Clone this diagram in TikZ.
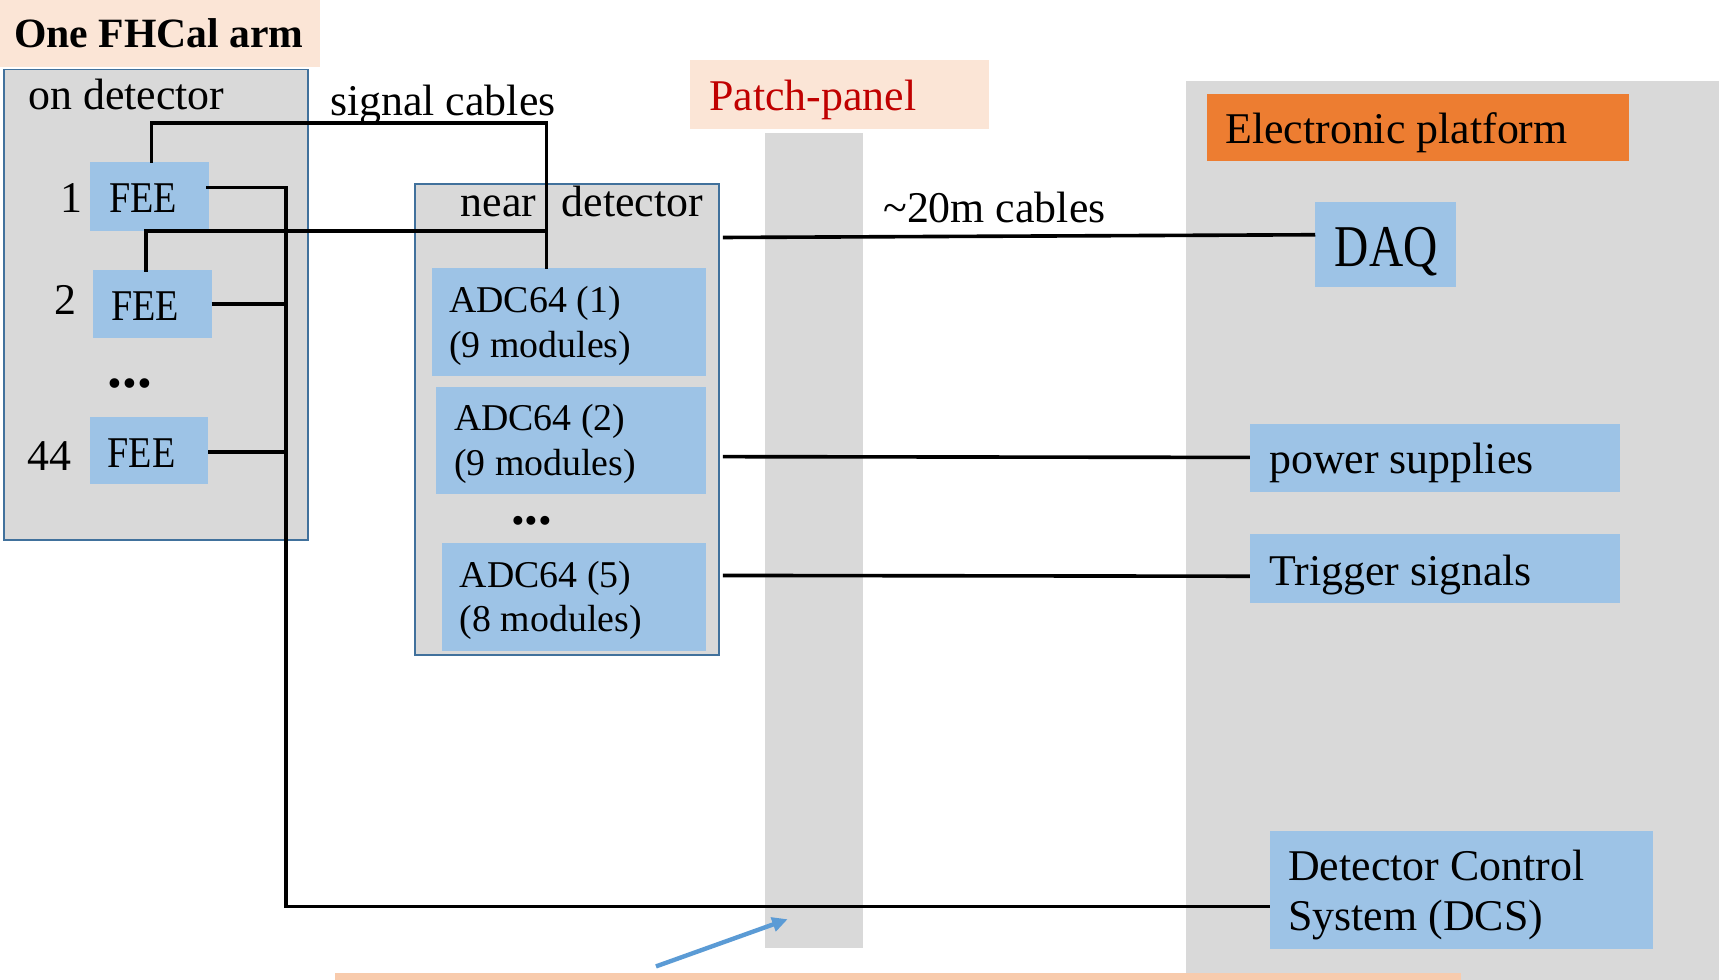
\documentclass[tikz,border=0pt]{standalone}
\usepackage{fontspec}
\setmainfont{Liberation Serif}
\usetikzlibrary{arrows.meta}

\definecolor{panelgray}{HTML}{D9D9D9}
\definecolor{boxblue}{HTML}{9DC3E6}
\definecolor{frameblue}{HTML}{41719C}
\definecolor{peach}{HTML}{FBE5D6}
\definecolor{stripPeach}{HTML}{F8CBAD}
\definecolor{platformOrange}{HTML}{ED7D31}
\definecolor{labelRed}{HTML}{C00000}
\definecolor{arrowBlue}{HTML}{5B9BD5}

\newcommand{\fs}[1]{\fontsize{#1}{1.2\dimexpr#1pt\relax}\selectfont}
\newcommand{\twolines}[3]{\parbox[t]{400pt}{\fontsize{#1}{#2}\selectfont\raggedright #3}}

\begin{document}
\begin{tikzpicture}[x=1pt,y=-1pt,
  area/.style={draw=none, inner sep=0pt, outer sep=0pt, anchor=north west},
  bluebox/.style={area, fill=boxblue},
  frame/.style={area, fill=panelgray, draw=frameblue, line width=1.5pt},
  txt/.style={inner sep=0pt, outer sep=0pt, anchor=base west, font=\fs{40}},
  cable/.style={draw=black, line width=3.3pt},
]
\useasboundingbox (0,0) rectangle (1568,893);
\fill[white] (0,0) rectangle (1568,893);

% ---- large background areas
\node[area, fill=panelgray, minimum width=486pt, minimum height=820pt] (platform) at (1081,74) {};
\node[area, fill=panelgray, minimum width=89pt, minimum height=743pt] (patch) at (697.4,121) {};
\node[area, fill=stripPeach, minimum width=1027pt, minimum height=8pt] (strip) at (305,887) {};

% ---- title
\node[area, fill=peach, minimum width=291.7pt, minimum height=60.8pt] (titlebox) at (0,0) {};
\node[txt, font=\fs{38}\bfseries] (title) at (12.8,43) {One FHCal arm};

% ---- on detector
\node[frame, minimum width=277.4pt, minimum height=428.8pt] (ondet) at (3.6,63.2) {};
\node[txt] (ondettxt) at (25.8,99.6) {on detector};

\node[bluebox, minimum width=108.5pt, minimum height=63pt] (fee1) at (82,147.4) {};
\node[txt] (fee1txt) at (99.7,193.9) {\scalebox{0.87}[1]{FEE}};
\node[txt] (n1) at (55.3,193.9) {1};

\node[bluebox, minimum width=108pt, minimum height=62pt] (fee2) at (85,246) {};
\node[txt] (fee2txt) at (101.5,292.5) {\scalebox{0.87}[1]{FEE}};
\node[txt] (n2) at (50,286.5) {2};

\node[txt, font=\fs{54}\bfseries] (dots1) at (98,353) {...};

\node[bluebox, minimum width=108pt, minimum height=61pt] (fee44) at (82,380) {};
\node[txt] (fee44txt) at (98,426.5) {\scalebox{0.87}[1]{FEE}};
\node[txt] (n44) at (25,428.5) {44};

\node[txt] (sigtxt) at (301,105) {signal cables};

% ---- near detector
\node[frame, minimum width=277.4pt, minimum height=429pt] (neard) at (378.3,168) {};
\node[txt] (neardtxt) at (420.2,197.5) {near\hspace{13pt} detector};

\node[bluebox, minimum width=250.5pt, minimum height=98.5pt] (adc1) at (393.5,244) {};
\node[txt] (adc1txt) at (409.6,285) {\twolines{34.5}{40.7}{ADC64 (1)\\(9 modules)}};

\node[bluebox, minimum width=245.8pt, minimum height=97.8pt] (adc2) at (397.5,352.8) {};
\node[txt] (adc2txt) at (413.9,392.9) {\twolines{34.5}{41}{ADC64 (2)\\(9 modules)}};

\node[txt, font=\fs{50}\bfseries] (dots2) at (466,478) {...};

\node[bluebox, minimum width=241.4pt, minimum height=97.9pt] (adc5) at (402.6,495.3) {};
\node[txt] (adc5txt) at (419.3,535.4) {\twolines{34.5}{40.4}{ADC64 (5)\\(8 modules)}};

% ---- patch panel
\node[area, fill=peach, minimum width=272.5pt, minimum height=62.6pt] (patchbox) at (629,54.7) {};
\node[txt, text=labelRed] (patchtxt) at (646.6,100.9) {Patch-panel};

\node[txt] (longtxt) at (805.2,202.7) {\char"7E 20m cables};

% ---- electronic platform
\node[area, fill=platformOrange, minimum width=385pt, minimum height=61pt] (epbox) at (1100,86) {};
\node[txt] (eptxt) at (1117,130.6) {Electronic platform};

\node[bluebox, minimum width=128pt, minimum height=78pt] (daq) at (1199,184) {};
\node[txt, font=\fs{54}] (daqtxt) at (1217,242.5) {\scalebox{0.8}[1]{DAQ}};

\node[bluebox, minimum width=337.3pt, minimum height=61.7pt] (ps) at (1139.5,386.5) {};
\node[txt] (pstxt) at (1157,432.1) {power supplies};

\node[bluebox, minimum width=337.3pt, minimum height=62.6pt] (trig) at (1139.5,486.8) {};
\node[txt] (trigtxt) at (1157,533.3) {Trigger signals};

\node[bluebox, minimum width=348.8pt, minimum height=107.9pt] (dcs) at (1157.7,757.5) {};
\node[txt] (dcstxt) at (1174.4,802.8) {\twolines{40}{45.9}{Detector Control\\System (DCS)}};

% ---- cable routing points
\coordinate (sigA) at (498.3,112.4);
\coordinate (sigB) at (495.3,210.6);
\coordinate (busTop) at (261,171);
\coordinate (busBot) at (261,826.5);
\coordinate (ndOut) at (659,0);

% signal cables FEE -> ADC64
\draw[cable, line cap=rect] ([xshift=2pt]fee1.north) |- (sigA) -- (sigA |- adc1.north);
\draw[cable, line cap=rect] ([xshift=-6pt]fee2.north) |- (sigB);

% slow-control bus FEE -> DCS
\draw[cable] ([xshift=-2.5pt]fee1.east |- busTop) -| (busBot) -- (dcs.west |- busBot);
\draw[cable] (fee2.east) -- (fee2.east -| busTop);
\draw[cable] ([yshift=-1.5pt]fee44.east) -- ([yshift=-1.5pt]fee44.east -| busTop);

% long cables to the electronic platform
\draw[cable] (ndOut |- 0,216.5) -- (daq.west |- 0,214);
\draw[cable] (ndOut |- 0,416.3) -- (ps.west |- 0,417);
\draw[cable] (ndOut |- 0,524.6) -- (trig.west |- 0,525.3);

% pointer to the patch panel
\coordinate (ptrTail) at (598,881);
\coordinate (ptrHead) at (718,838);
\draw[arrowBlue, line width=4pt, -{Triangle[length=14pt,width=13pt]}] (ptrTail) -- (ptrHead);

\end{tikzpicture}
\end{document}
